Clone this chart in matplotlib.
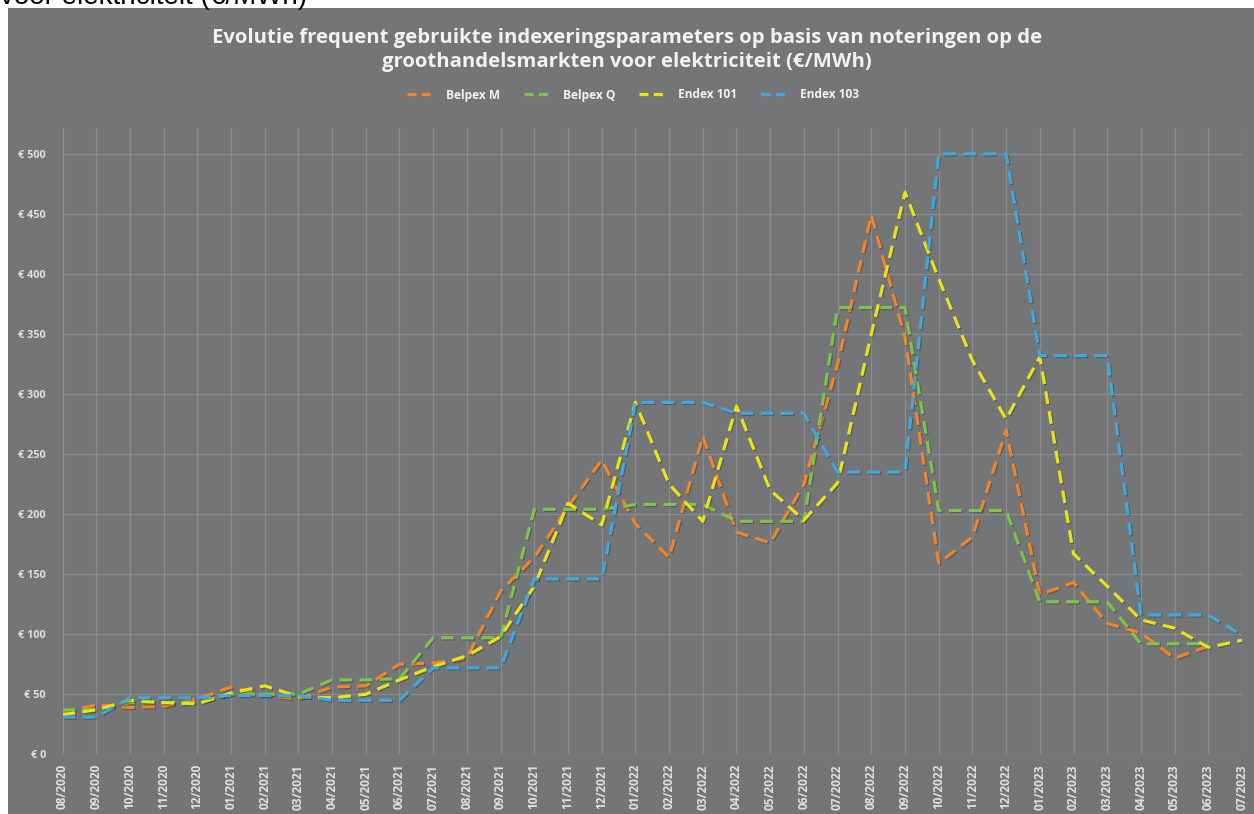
import matplotlib
matplotlib.use("Agg")
import matplotlib.pyplot as plt
import matplotlib.patheffects as pe
from matplotlib.lines import Line2D
import numpy as np

months = ["08/2020", "09/2020", "10/2020", "11/2020", "12/2020",
          "01/2021", "02/2021", "03/2021", "04/2021", "05/2021", "06/2021",
          "07/2021", "08/2021", "09/2021", "10/2021", "11/2021", "12/2021",
          "01/2022", "02/2022", "03/2022", "04/2022", "05/2022", "06/2022",
          "07/2022", "08/2022", "09/2022", "10/2022", "11/2022", "12/2022",
          "01/2023", "02/2023", "03/2023", "04/2023", "05/2023", "06/2023",
          "07/2023"]

belpex_m = [35, 41, 39, 40, 46, 56, 49, 46, 56, 57, 75, 76, 80, 136, 164, 206,
            245, 192, 164, 265, 185, 176, 225, 325, 449, 347, 159, 181, 270,
            133, 143, 109, 101, 80, 90, np.nan]
belpex_q = [37, 37, 43, 43, 43, 50, 50, 50, 62, 62, 63, 97, 97, 97, 204, 204,
            204, 208, 208, 208, 194, 194, 194, 372, 372, 372, 203, 203, 203,
            127, 127, 127, 92, 92, 92, np.nan]
endex_101 = [33, 37, 45, 43, 42, 51, 57, 48, 47, 50, 62, 73, 82, 98, 140, 209,
             191, 293, 225, 194, 290, 220, 195, 226, 350, 468, 396, 328, 279,
             331, 167, 140, 112, 105, 89, 95]
endex_103 = [31, 31, 47, 47, 47, 49, 49, 49, 45, 45, 45, 72, 72, 72, 146, 146,
             146, 293, 293, 293, 284, 284, 284, 235, 235, 235, 500, 500, 500,
             332, 332, 332, 116, 116, 116, 99]

series = [("Belpex M", belpex_m, "#F0852D"),
          ("Belpex Q", belpex_q, "#7CC44A"),
          ("Endex 101", endex_101, "#E8E31A"),
          ("Endex 103", endex_103, "#3FA9DE")]

yticks = [0, 50, 100, 150, 200, 250, 300, 350, 400, 450, 500]

W, H = 1254, 814
fig = plt.figure(figsize=(W / 100, H / 100), dpi=100)
fig.patch.set_facecolor("white")

bg = "#737577"
fig.patches.append(plt.Rectangle((8 / W, 0), 1 - 8 / W, 1 - 8 / H,
                                 transform=fig.transFigure, facecolor=bg,
                                 edgecolor="none", zorder=-10))

# caption of the page, cut off at the top edge as in the screenshot
fig.text(0, 1 - 4 / H, "voor elektriciteit (€/MWh)", fontsize=20,
         family="Liberation Sans", color="black", ha="left", va="baseline",
         zorder=-5)

fig.text(0.5, 1 - 50 / H,
         "Evolutie frequent gebruikte indexeringsparameters op basis van noteringen op de\n"
         "groothandelsmarkten voor elektriciteit (€/MWh)",
         ha="center", va="center", fontsize=14.6, fontweight="bold",
         family="Open Sans", color="#F2F2F2", linespacing=1.3)

left, right = 62.5 / W, 1242 / W
bottom, top = 1 - 754.3 / H, 1 - 128 / H
ax = fig.add_axes([left, bottom, right - left, top - bottom])
ax.set_facecolor(bg)
ax.patch.set_alpha(0)

x = np.arange(len(months))
handles = []
for name, vals, col in series:
    ax.plot(x, vals, color=col, lw=2.3, dashes=(4.0, 2.3), label=name,
            solid_capstyle="butt", dash_capstyle="butt",
            path_effects=[pe.SimpleLineShadow(offset=(0.8, -0.8), alpha=0.25,
                                              shadow_color="black"),
                          pe.Normal()])
    handles.append(Line2D([], [], color=col, lw=2.3, dashes=(2.8, 1.7),
                          dash_capstyle="butt", label=name))

ax.set_xlim(0, len(months) - 1)
ax.set_ylim(0, 521.5)
ax.set_yticks(yticks)
ax.set_yticklabels([f"€ {v}" for v in yticks])
ax.set_xticks(x)
ax.set_xticklabels(months, rotation=90)
ax.grid(True, color="#8A8C8E", lw=0.9)
ax.set_axisbelow(True)
for s in ax.spines.values():
    s.set_visible(False)
ax.tick_params(axis="both", length=0, colors="#E0E0E0")
ax.tick_params(axis="y", pad=12)
ax.tick_params(axis="x", pad=7)
for lab in ax.get_yticklabels():
    lab.set_fontsize(7.8)
    lab.set_fontweight("bold")
    lab.set_family("Open Sans")
for lab in ax.get_xticklabels():
    lab.set_fontsize(8.6)
    lab.set_fontweight("bold")
    lab.set_family("Open Sans")

leg = fig.legend(handles=handles, loc="center",
                 bbox_to_anchor=(0.505, 1 - 95 / H), ncol=4,
                 frameon=False, handlelength=2.1, columnspacing=2.0,
                 handletextpad=1.15,
                 prop={"family": "Open Sans", "weight": "bold", "size": 8.6})
for t in leg.get_texts():
    t.set_color("#F2F2F2")

fig.savefig("out.png", dpi=100, facecolor=fig.get_facecolor())
